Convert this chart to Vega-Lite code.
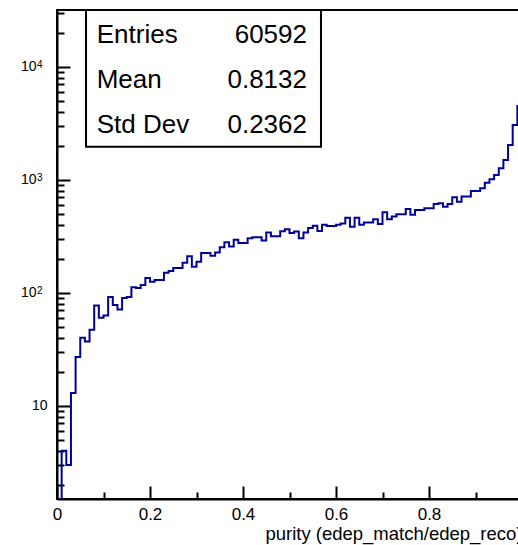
{
  "$schema": "https://vega.github.io/schema/vega-lite/v6.json",
  "width": 465,
  "height": 489,
  "autosize": {"type": "none"},
  "padding": {"left": 57, "top": 10, "right": -4, "bottom": 46},
  "background": "white",
  "config": {
    "font": "Liberation Sans",
    "view": {"stroke": "black", "strokeWidth": 2},
    "axis": {"grid": false}
  },
  "datasets": {
    "hist": [
      {"purity": 0.00, "entries": 1},
      {"purity": 0.01, "entries": 4},
      {"purity": 0.02, "entries": 3},
      {"purity": 0.03, "entries": 13},
      {"purity": 0.04, "entries": 27},
      {"purity": 0.05, "entries": 40},
      {"purity": 0.06, "entries": 37},
      {"purity": 0.07, "entries": 47},
      {"purity": 0.08, "entries": 77},
      {"purity": 0.09, "entries": 60},
      {"purity": 0.10, "entries": 63},
      {"purity": 0.11, "entries": 92},
      {"purity": 0.12, "entries": 78},
      {"purity": 0.13, "entries": 71},
      {"purity": 0.14, "entries": 90},
      {"purity": 0.15, "entries": 92},
      {"purity": 0.16, "entries": 112},
      {"purity": 0.17, "entries": 110},
      {"purity": 0.18, "entries": 117},
      {"purity": 0.19, "entries": 135},
      {"purity": 0.20, "entries": 125},
      {"purity": 0.21, "entries": 130},
      {"purity": 0.22, "entries": 130},
      {"purity": 0.23, "entries": 150},
      {"purity": 0.24, "entries": 156},
      {"purity": 0.25, "entries": 166},
      {"purity": 0.26, "entries": 166},
      {"purity": 0.27, "entries": 184},
      {"purity": 0.28, "entries": 210},
      {"purity": 0.29, "entries": 170},
      {"purity": 0.30, "entries": 188},
      {"purity": 0.31, "entries": 225},
      {"purity": 0.32, "entries": 225},
      {"purity": 0.33, "entries": 213},
      {"purity": 0.34, "entries": 227},
      {"purity": 0.35, "entries": 253},
      {"purity": 0.36, "entries": 280},
      {"purity": 0.37, "entries": 256},
      {"purity": 0.38, "entries": 294},
      {"purity": 0.39, "entries": 275},
      {"purity": 0.40, "entries": 275},
      {"purity": 0.41, "entries": 304},
      {"purity": 0.42, "entries": 310},
      {"purity": 0.43, "entries": 310},
      {"purity": 0.44, "entries": 290},
      {"purity": 0.45, "entries": 341},
      {"purity": 0.46, "entries": 316},
      {"purity": 0.47, "entries": 316},
      {"purity": 0.48, "entries": 350},
      {"purity": 0.49, "entries": 365},
      {"purity": 0.50, "entries": 338},
      {"purity": 0.51, "entries": 348},
      {"purity": 0.52, "entries": 304},
      {"purity": 0.53, "entries": 341},
      {"purity": 0.54, "entries": 375},
      {"purity": 0.55, "entries": 392},
      {"purity": 0.56, "entries": 352},
      {"purity": 0.57, "entries": 400},
      {"purity": 0.58, "entries": 390},
      {"purity": 0.59, "entries": 390},
      {"purity": 0.60, "entries": 400},
      {"purity": 0.61, "entries": 410},
      {"purity": 0.62, "entries": 460},
      {"purity": 0.63, "entries": 383},
      {"purity": 0.64, "entries": 460},
      {"purity": 0.65, "entries": 400},
      {"purity": 0.66, "entries": 418},
      {"purity": 0.67, "entries": 418},
      {"purity": 0.68, "entries": 447},
      {"purity": 0.69, "entries": 406},
      {"purity": 0.70, "entries": 516},
      {"purity": 0.71, "entries": 447},
      {"purity": 0.72, "entries": 472},
      {"purity": 0.73, "entries": 495},
      {"purity": 0.74, "entries": 495},
      {"purity": 0.75, "entries": 552},
      {"purity": 0.76, "entries": 489},
      {"purity": 0.77, "entries": 541},
      {"purity": 0.78, "entries": 541},
      {"purity": 0.79, "entries": 560},
      {"purity": 0.80, "entries": 560},
      {"purity": 0.81, "entries": 611},
      {"purity": 0.82, "entries": 620},
      {"purity": 0.83, "entries": 578},
      {"purity": 0.84, "entries": 611},
      {"purity": 0.85, "entries": 700},
      {"purity": 0.86, "entries": 640},
      {"purity": 0.87, "entries": 709},
      {"purity": 0.88, "entries": 709},
      {"purity": 0.89, "entries": 796},
      {"purity": 0.90, "entries": 796},
      {"purity": 0.91, "entries": 841},
      {"purity": 0.92, "entries": 942},
      {"purity": 0.93, "entries": 1009},
      {"purity": 0.94, "entries": 1103},
      {"purity": 0.95, "entries": 1265},
      {"purity": 0.96, "entries": 1496},
      {"purity": 0.97, "entries": 2032},
      {"purity": 0.98, "entries": 3055},
      {"purity": 0.99, "entries": 4580}
    ],
    "decades": [
      {"entries": 100, "exponent": "2"},
      {"entries": 1000, "exponent": "3"},
      {"entries": 10000, "exponent": "4"}
    ],
    "stats": [
      {"stat": "Entries", "value": "60592"},
      {"stat": "Mean", "value": "0.8132"},
      {"stat": "Std Dev", "value": "0.2362"}
    ]
  },
  "layer": [
    {
      "data": {"name": "hist"},
      "mark": {"type": "line", "interpolate": "step-after", "color": "#000099", "strokeWidth": 2, "clip": true},
      "encoding": {
        "x": {
          "field": "purity",
          "type": "quantitative",
          "scale": {"domain": [0, 1], "nice": false, "zero": false},
          "axis": {
            "values": [0, 0.05, 0.1, 0.15, 0.2, 0.25, 0.3, 0.35, 0.4, 0.45, 0.5, 0.55, 0.6, 0.65, 0.7, 0.75, 0.8, 0.85, 0.9, 0.95, 1],
            "labelExpr": "abs(datum.value * 5 - round(datum.value * 5)) < 1e-6 ? format(datum.value, '~g') : ''",
            "labelFont": "Liberation Sans",
            "labelFontSize": 17,
            "labelColor": "black",
            "labelPadding": 20,
            "labelFlush": false,
            "labelOverlap": false,
            "domainColor": "black",
            "domainWidth": 2,
            "tickColor": "black",
            "tickWidth": 2,
            "tickSize": {"condition": {"test": "abs(datum.value * 5 - round(datum.value * 5)) < 1e-6", "value": -13}, "value": -7},
            "title": "purity (edep_match/edep_reco)",
            "titleFont": "Liberation Sans",
            "titleFontSize": 18.5,
            "titleFontWeight": "normal",
            "titleColor": "black",
            "titleAnchor": "end",
            "titlePadding": -4
          }
        },
        "y": {
          "field": "entries",
          "type": "quantitative",
          "scale": {"type": "log", "domain": [1.5, 31700], "nice": false},
          "axis": {
            "values": [2, 3, 4, 5, 6, 7, 8, 9, 10, 20, 30, 40, 50, 60, 70, 80, 90, 100, 200, 300, 400, 500, 600, 700, 800, 900, 1000, 2000, 3000, 4000, 5000, 6000, 7000, 8000, 9000, 10000, 20000, 30000],
            "labelExpr": "indexof([10, 100, 1000, 10000], datum.value) >= 0 ? '10' : ''",
            "labelFont": "Liberation Sans",
            "labelFontSize": 14,
            "labelColor": "black",
            "labelPadding": {"condition": {"test": "datum.value == 10", "value": 23}, "value": 34},
            "labelFlush": false,
            "labelOverlap": false,
            "domainColor": "black",
            "domainWidth": 2,
            "tickColor": "black",
            "tickWidth": 2,
            "tickSize": {"condition": {"test": "indexof([10, 100, 1000, 10000], datum.value) >= 0", "value": -13}, "value": -7},
            "title": null
          }
        }
      }
    },
    {
      "data": {"name": "decades"},
      "mark": {"type": "text", "align": "left", "baseline": "alphabetic", "fontSize": 10, "font": "Liberation Sans", "color": "black", "dx": -20, "dy": 1},
      "encoding": {
        "x": {"datum": 0},
        "y": {"field": "entries", "type": "quantitative"},
        "text": {"field": "exponent"}
      }
    },
    {
      "data": {"values": [{"box": "stats"}]},
      "mark": {"type": "rect", "fill": "white", "stroke": "black", "strokeWidth": 2},
      "encoding": {
        "x": {"datum": 0.0624},
        "x2": {"datum": 0.5677},
        "y": {"datum": 1961},
        "y2": {"datum": 31700}
      }
    },
    {
      "data": {"name": "stats"},
      "transform": [{"filter": "datum.stat == 'Entries'"}],
      "encoding": {"y": {"datum": 16110}},
      "layer": [
        {
          "mark": {"type": "text", "align": "left", "baseline": "alphabetic", "fontSize": 26, "font": "Liberation Sans", "color": "black"},
          "encoding": {"x": {"datum": 0.0854}, "text": {"field": "stat"}}
        },
        {
          "mark": {"type": "text", "align": "right", "baseline": "alphabetic", "fontSize": 26, "font": "Liberation Sans", "color": "black"},
          "encoding": {"x": {"datum": 0.5376}, "text": {"field": "value"}}
        }
      ]
    },
    {
      "data": {"name": "stats"},
      "transform": [{"filter": "datum.stat == 'Mean'"}],
      "encoding": {"y": {"datum": 6442}},
      "layer": [
        {
          "mark": {"type": "text", "align": "left", "baseline": "alphabetic", "fontSize": 26, "font": "Liberation Sans", "color": "black"},
          "encoding": {"x": {"datum": 0.0854}, "text": {"field": "stat"}}
        },
        {
          "mark": {"type": "text", "align": "right", "baseline": "alphabetic", "fontSize": 26, "font": "Liberation Sans", "color": "black"},
          "encoding": {"x": {"datum": 0.5376}, "text": {"field": "value"}}
        }
      ]
    },
    {
      "data": {"name": "stats"},
      "transform": [{"filter": "datum.stat == 'Std Dev'"}],
      "encoding": {"y": {"datum": 2577}},
      "layer": [
        {
          "mark": {"type": "text", "align": "left", "baseline": "alphabetic", "fontSize": 26, "font": "Liberation Sans", "color": "black"},
          "encoding": {"x": {"datum": 0.0854}, "text": {"field": "stat"}}
        },
        {
          "mark": {"type": "text", "align": "right", "baseline": "alphabetic", "fontSize": 26, "font": "Liberation Sans", "color": "black"},
          "encoding": {"x": {"datum": 0.5376}, "text": {"field": "value"}}
        }
      ]
    }
  ]
}
